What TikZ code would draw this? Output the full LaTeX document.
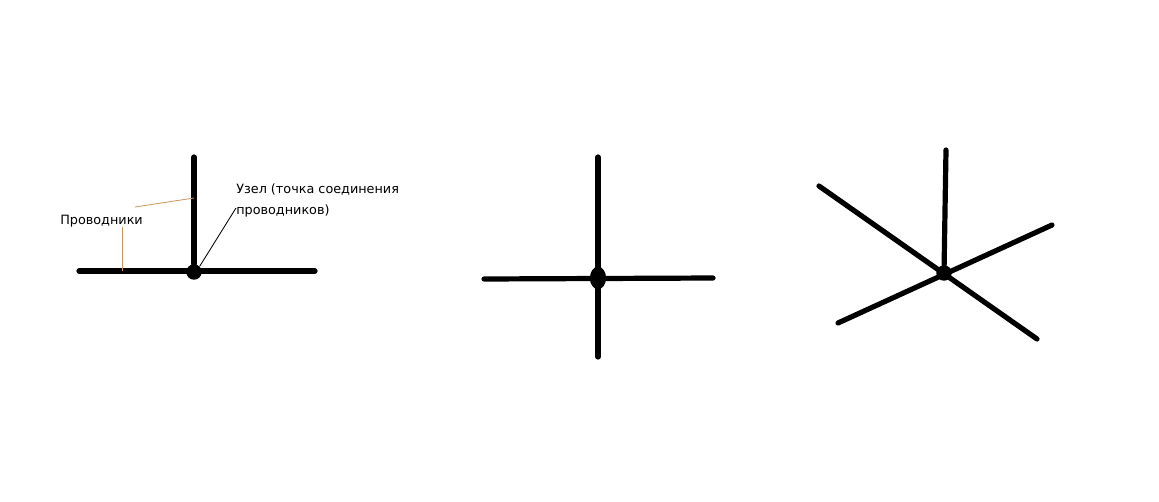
\documentclass[tikz,border=0pt]{standalone}
\usepackage{fontspec}
\setmainfont{DejaVu Sans}
\usetikzlibrary{shapes.geometric,positioning}
\definecolor{leadertan}{RGB}{205,150,95}
\tikzset{wire/.style={draw=black, line width=3.7pt, line cap=round}}
\tikzset{junction/.style={circle, fill=black, inner sep=0pt, minimum size=11pt}}
\tikzset{leader/.style={draw=#1, line width=0.6pt}}
\tikzset{label text/.style={font=\fontsize{9.1}{14.8}\selectfont, inner sep=0pt, align=left}}

\begin{document}
\begin{tikzpicture}[x=0.025cm, y=-0.025cm]
  \useasboundingbox (0,0) rectangle (1159,501);
  % T-shaped junction with labels
  \begin{scope}
    \node [junction]     (n1)    at (194,272) {};
    \coordinate          (n1w)   at ( 79,271);
    \coordinate          (n1e)   at (315,271);
    \coordinate          (n1n)   at (194,157);
    \draw [wire] (n1w) -- (n1e);
    \draw [wire] (n1n) -- (n1);
    \node [label text, anchor=west] (wires) at (60,221) {Проводники};
    \node [label text, anchor=north west] (nodetext) at (236,184) {Узел (точка соединения\\проводников)};
    \coordinate (onh)  at (122,271);
    \coordinate (offh) at (122,227);
    \coordinate (offv) at (135,207);
    \coordinate (onv)  at (194,198);
    \coordinate (offn) at (236,208);
    \draw [leader=leadertan] (offh) -- (onh);
    \draw [leader=leadertan] (offv) -- (onv);
    \draw [leader=black] (n1.north east) -- (offn);
  \end{scope}

  % cross junction
  \begin{scope}
    \node [junction, ellipse, minimum width=11.5pt, minimum height=16pt, inner sep=0pt] (n2) at (598,278) {};
    \coordinate (n2w) at (484,279);
    \coordinate (n2e) at (713,278);
    \coordinate (n2n) at (598,157);
    \coordinate (n2s) at (598,357);
    \draw [wire] (n2w) -- (n2e);
    \draw [wire] (n2n) -- (n2s);
  \end{scope}

  % five-wire junction
  \begin{scope}
    \node [junction] (n3) at (944,273) {};
    \coordinate (n3n)  at (946,150);
    \coordinate (n3nw) at (819,186);
    \coordinate (n3se) at (1037,339);
    \coordinate (n3sw) at (838,323);
    \coordinate (n3ne) at (1052,225);
    \draw [wire] (n3n)  -- (n3);
    \draw [wire] (n3nw) -- (n3se);
    \draw [wire] (n3sw) -- (n3ne);
  \end{scope}
\end{tikzpicture}
\end{document}
